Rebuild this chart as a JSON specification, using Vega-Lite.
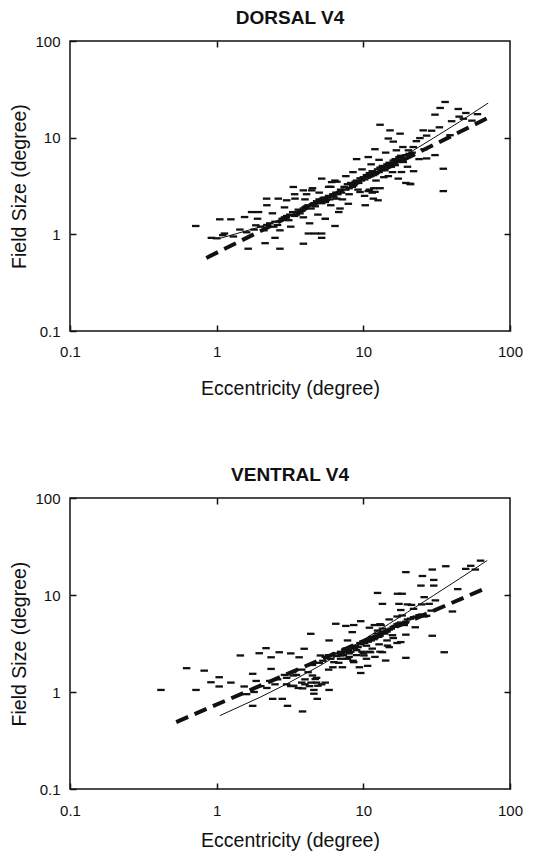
{
  "$schema": "https://vega.github.io/schema/vega-lite/v6.json",
  "padding": {"left": 9, "top": 8, "right": 10, "bottom": 2},
  "background": "white",
  "config": {
    "font": "Liberation Sans",
    "view": {"stroke": "#111", "strokeWidth": 1.5},
    "axis": {"domain": false, "grid": false, "ticks": true, "tickSize": -6, "tickColor": "#111", "tickWidth": 1.5, "labelFlush": false, "labelFont": "Liberation Sans", "labelFontSize": 15, "labelColor": "#111", "titleFont": "Liberation Sans", "titleFontSize": 19.5, "titleFontWeight": "normal", "titleColor": "#111"},
    "title": {"font": "Liberation Sans", "fontSize": 19, "fontWeight": "bold", "color": "#111"},
    "concat": {"spacing": 66}
  },
  "datasets": {
    "dorsal_pts": [
      {"ecc":0.72,"fs":1.22},{"ecc":0.92,"fs":0.92},{"ecc":1.0,"fs":0.91},{"ecc":1.05,"fs":1.43},{"ecc":1.25,"fs":1.43},{"ecc":1.13,"fs":1.02},{"ecc":1.44,"fs":1.12},{"ecc":1.55,"fs":1.51},{"ecc":1.64,"fs":0.71},{"ecc":1.73,"fs":1.7},{"ecc":1.93,"fs":1.7},{"ecc":1.85,"fs":1.24},{"ecc":2.14,"fs":0.81},{"ecc":2.19,"fs":2.34},{"ecc":2.63,"fs":2.34},{"ecc":2.7,"fs":0.71},{"ecc":2.5,"fs":0.92},{"ecc":3.0,"fs":2.25},{"ecc":3.33,"fs":3.09},{"ecc":3.42,"fs":2.34},{"ecc":3.9,"fs":2.85},{"ecc":4.45,"fs":2.85},{"ecc":3.9,"fs":0.8},{"ecc":4.22,"fs":1.02},{"ecc":5.2,"fs":3.77},{"ecc":6.08,"fs":3.47},{"ecc":6.4,"fs":3.6},{"ecc":6.58,"fs":2.34},{"ecc":7.9,"fs":2.07},{"ecc":6.93,"fs":1.85},{"ecc":6.41,"fs":1.22},{"ecc":5.2,"fs":1.02},{"ecc":5.2,"fs":0.92},{"ecc":4.7,"fs":1.02},{"ecc":10.3,"fs":2.0},{"ecc":11.7,"fs":2.34},{"ecc":12.6,"fs":2.25},{"ecc":9.5,"fs":2.74},{"ecc":10.8,"fs":6.3},{"ecc":13.0,"fs":13.6},{"ecc":15.2,"fs":11.9},{"ecc":14.8,"fs":9.8},{"ecc":17.8,"fs":11.0},{"ecc":18.7,"fs":5.6},{"ecc":20.3,"fs":7.4},{"ecc":21.9,"fs":8.0},{"ecc":24.3,"fs":9.9},{"ecc":25.6,"fs":11.9},{"ecc":29.2,"fs":11.8},{"ecc":30.8,"fs":17.3},{"ecc":33.4,"fs":20.3},{"ecc":36.1,"fs":23.4},{"ecc":44.4,"fs":19.8},{"ecc":48.1,"fs":15.7},{"ecc":39.0,"fs":10.6},{"ecc":30.8,"fs":6.6},{"ecc":27.0,"fs":6.1},{"ecc":20.8,"fs":3.34},{"ecc":35.1,"fs":4.77},{"ecc":35.1,"fs":2.8},{"ecc":18.2,"fs":4.41},{"ecc":17.3,"fs":3.77},{"ecc":16.5,"fs":5.2},{"ecc":14.8,"fs":4.0},
      {"ecc":1.6,"fs":1.05},{"ecc":1.8,"fs":1.12},{"ecc":2.0,"fs":1.2},{"ecc":2.1,"fs":1.1},{"ecc":2.3,"fs":1.3},{"ecc":2.5,"fs":1.35},{"ecc":2.6,"fs":1.25},{"ecc":2.8,"fs":1.45},{"ecc":3.0,"fs":1.55},{"ecc":3.1,"fs":1.4},{"ecc":3.3,"fs":1.7},{"ecc":3.5,"fs":1.6},{"ecc":3.6,"fs":1.8},{"ecc":3.8,"fs":1.75},{"ecc":4.0,"fs":1.9},{"ecc":4.2,"fs":2.0},{"ecc":4.4,"fs":1.85},{"ecc":4.6,"fs":2.1},{"ecc":4.8,"fs":2.2},{"ecc":5.0,"fs":2.3},{"ecc":5.2,"fs":2.1},{"ecc":5.4,"fs":2.4},{"ecc":5.6,"fs":2.25},{"ecc":5.8,"fs":2.5},{"ecc":6.0,"fs":2.0},{"ecc":6.2,"fs":2.6},{"ecc":6.5,"fs":2.7},{"ecc":7.0,"fs":2.9},{"ecc":7.4,"fs":3.1},{"ecc":7.8,"fs":3.3},{"ecc":8.2,"fs":3.4},{"ecc":8.6,"fs":3.2},{"ecc":9.0,"fs":3.6},{"ecc":9.5,"fs":3.8},{"ecc":10.0,"fs":3.9},{"ecc":10.5,"fs":4.1},{"ecc":11.0,"fs":4.3},{"ecc":11.5,"fs":4.5},{"ecc":12.0,"fs":4.2},{"ecc":12.5,"fs":4.7},{"ecc":13.0,"fs":4.9},{"ecc":13.5,"fs":5.1},{"ecc":14.0,"fs":4.6},{"ecc":14.5,"fs":5.3},{"ecc":15.0,"fs":5.5},{"ecc":15.5,"fs":5.0},{"ecc":16.0,"fs":5.8},{"ecc":16.5,"fs":6.0},{"ecc":17.0,"fs":5.6},{"ecc":17.5,"fs":6.3},{"ecc":18.0,"fs":6.5},{"ecc":18.5,"fs":5.9},{"ecc":19.0,"fs":6.2},
      {"ecc":2.2,"fs":2.0},{"ecc":2.7,"fs":1.1},{"ecc":3.2,"fs":1.2},{"ecc":3.9,"fs":1.5},{"ecc":4.3,"fs":1.3},{"ecc":4.9,"fs":1.6},{"ecc":5.5,"fs":1.45},{"ecc":6.8,"fs":1.7},{"ecc":7.2,"fs":2.3},{"ecc":8.0,"fs":2.6},{"ecc":8.5,"fs":4.4},{"ecc":9.2,"fs":2.9},{"ecc":10.2,"fs":2.5},{"ecc":10.8,"fs":2.8},{"ecc":11.3,"fs":5.3},{"ecc":12.2,"fs":3.6},{"ecc":12.8,"fs":5.9},{"ecc":13.8,"fs":3.9},{"ecc":14.2,"fs":7.0},{"ecc":15.8,"fs":4.4},{"ecc":16.8,"fs":7.4},{"ecc":18.6,"fs":8.0},{"ecc":20.0,"fs":5.0},{"ecc":22.0,"fs":4.5},{"ecc":24.0,"fs":6.0},{"ecc":26.0,"fs":7.6},{"ecc":3.4,"fs":2.6},{"ecc":4.1,"fs":2.6},{"ecc":5.8,"fs":3.1},{"ecc":6.6,"fs":3.5},{"ecc":7.6,"fs":4.0},{"ecc":9.8,"fs":4.7},{"ecc":11.8,"fs":3.0},{"ecc":19.5,"fs":3.4},{"ecc":21.0,"fs":3.3},{"ecc":4.5,"fs":3.0},{"ecc":1.9,"fs":1.45},{"ecc":2.4,"fs":1.65},{"ecc":1.3,"fs":0.95},{"ecc":1.1,"fs":0.98},{"ecc":2.9,"fs":1.9},{"ecc":12.0,"fs":7.6},{"ecc":9.0,"fs":6.0},{"ecc":16.0,"fs":9.1},{"ecc":23.0,"fs":9.2},{"ecc":27.0,"fs":10.5},{"ecc":33.0,"fs":12.8},{"ecc":40.0,"fs":14.8},{"ecc":50.0,"fs":18.0},{"ecc":45.0,"fs":16.5},{"ecc":55.0,"fs":15.0},{"ecc":60.0,"fs":17.5},
      {"ecc":2.2,"fs":1.25},{"ecc":2.45,"fs":1.2},{"ecc":2.9,"fs":1.5},{"ecc":3.15,"fs":1.6},{"ecc":3.4,"fs":1.55},{"ecc":3.7,"fs":1.65},{"ecc":3.9,"fs":1.85},{"ecc":4.1,"fs":1.95},{"ecc":4.5,"fs":2.05},{"ecc":4.7,"fs":1.95},{"ecc":5.1,"fs":2.2},{"ecc":5.3,"fs":2.35},{"ecc":5.5,"fs":2.15},{"ecc":5.7,"fs":2.4},{"ecc":5.9,"fs":2.3},{"ecc":6.3,"fs":2.45},{"ecc":6.7,"fs":2.6},{"ecc":7.1,"fs":2.7},{"ecc":7.6,"fs":2.9},{"ecc":8.0,"fs":3.0},{"ecc":8.4,"fs":3.1},{"ecc":8.8,"fs":3.5},{"ecc":9.3,"fs":3.4},{"ecc":9.7,"fs":3.6},{"ecc":10.2,"fs":3.7},{"ecc":10.7,"fs":3.9},{"ecc":11.2,"fs":4.0},{"ecc":11.7,"fs":4.1},{"ecc":12.3,"fs":4.4},{"ecc":12.8,"fs":4.4},{"ecc":13.3,"fs":4.6},{"ecc":13.8,"fs":4.8},{"ecc":14.3,"fs":5.0},{"ecc":14.8,"fs":5.2},{"ecc":15.3,"fs":5.3},{"ecc":15.8,"fs":5.5},{"ecc":16.3,"fs":5.4},{"ecc":16.8,"fs":5.7},{"ecc":17.3,"fs":5.9},{"ecc":17.8,"fs":6.1},{"ecc":18.3,"fs":6.2},{"ecc":19.5,"fs":6.6},{"ecc":20.5,"fs":6.8},{"ecc":21.5,"fs":7.0},{"ecc":11.0,"fs":2.9},{"ecc":11.5,"fs":2.7},{"ecc":12.0,"fs":2.75},{"ecc":13.0,"fs":3.0},{"ecc":5.0,"fs":2.7},{"ecc":6.0,"fs":3.1},{"ecc":4.0,"fs":2.3}
    ],
    "dorsal_lines": [
      {"ecc":1.03,"fs":0.9,"fit":"solid"},{"ecc":2,"fs":1.2,"fit":"solid"},{"ecc":3,"fs":1.51,"fit":"solid"},{"ecc":5,"fs":2.13,"fit":"solid"},{"ecc":7,"fs":2.75,"fit":"solid"},{"ecc":10,"fs":3.68,"fit":"solid"},{"ecc":15,"fs":5.23,"fit":"solid"},{"ecc":20,"fs":6.78,"fit":"solid"},{"ecc":30,"fs":9.88,"fit":"solid"},{"ecc":45,"fs":14.5,"fit":"solid"},{"ecc":71,"fs":22.8,"fit":"solid"},
      {"ecc":0.85,"fs":0.57,"fit":"dashed"},{"ecc":73,"fs":16.4,"fit":"dashed"}
    ],
    "ventral_pts": [
      {"ecc":0.417,"fs":1.05},{"ecc":0.624,"fs":1.76},{"ecc":0.723,"fs":1.05},{"ecc":0.822,"fs":1.66},{"ecc":0.914,"fs":1.26},{"ecc":1.04,"fs":1.42},{"ecc":1.04,"fs":1.14},{"ecc":1.25,"fs":1.25},{"ecc":1.45,"fs":2.38},{"ecc":1.54,"fs":1.14},{"ecc":1.76,"fs":1.54},{"ecc":1.76,"fs":0.72},{"ecc":1.86,"fs":1.3},{"ecc":1.95,"fs":2.51},{"ecc":2.17,"fs":2.83},{"ecc":2.35,"fs":2.28},{"ecc":2.35,"fs":1.73},{"ecc":2.41,"fs":0.85},{"ecc":2.67,"fs":2.57},{"ecc":2.8,"fs":0.85},{"ecc":3.04,"fs":0.72},{"ecc":3.2,"fs":2.5},{"ecc":3.33,"fs":1.48},{"ecc":3.35,"fs":1.16},{"ecc":3.65,"fs":2.28},{"ecc":3.85,"fs":1.09},{"ecc":3.95,"fs":2.79},{"ecc":3.85,"fs":0.63},{"ecc":4.38,"fs":3.98},{"ecc":4.5,"fs":1.48},{"ecc":4.7,"fs":1.36},{"ecc":4.6,"fs":0.96},{"ecc":4.85,"fs":0.85},{"ecc":4.9,"fs":1.16},{"ecc":5.84,"fs":1.05},{"ecc":5.1,"fs":2.38},{"ecc":5.84,"fs":3.4},{"ecc":6.49,"fs":5.05},{"ecc":7.6,"fs":4.8},{"ecc":8.6,"fs":4.9},{"ecc":9.6,"fs":5.37},{"ecc":8.4,"fs":4.14},{"ecc":7.8,"fs":3.4},{"ecc":7.0,"fs":2.38},{"ecc":6.3,"fs":2.03},{"ecc":7.2,"fs":1.8},{"ecc":8.6,"fs":2.03},{"ecc":9.4,"fs":1.8},{"ecc":9.6,"fs":1.57},{"ecc":10.7,"fs":1.86},{"ecc":10.1,"fs":2.38},{"ecc":11.2,"fs":2.57},{"ecc":11.9,"fs":4.9},{"ecc":12.5,"fs":10.5},{"ecc":13.5,"fs":8.1},{"ecc":13.2,"fs":4.9},{"ecc":13.5,"fs":2.57},{"ecc":14.2,"fs":2.11},{"ecc":14.6,"fs":3.01},{"ecc":15.8,"fs":3.85},{"ecc":17.1,"fs":10.3},{"ecc":18.4,"fs":10.3},{"ecc":17.5,"fs":8.1},{"ecc":18.4,"fs":6.15},{"ecc":18.0,"fs":3.27},{"ecc":19.5,"fs":3.9},{"ecc":19.5,"fs":2.25},{"ecc":19.5,"fs":17.2},{"ecc":21.3,"fs":7.9},{"ecc":24.7,"fs":12.5},{"ecc":25.3,"fs":15.7},{"ecc":28.1,"fs":8.1},{"ecc":29.0,"fs":6.9},{"ecc":29.5,"fs":3.8},{"ecc":30.2,"fs":12.5},{"ecc":30.2,"fs":14.3},{"ecc":29.5,"fs":18.3},{"ecc":31.0,"fs":8.8},{"ecc":35.6,"fs":2.57},{"ecc":40.5,"fs":6.76},{"ecc":36.5,"fs":19.8},{"ecc":44.0,"fs":11.5},{"ecc":49.9,"fs":18.6},{"ecc":54.0,"fs":20.0},{"ecc":58.0,"fs":18.3},{"ecc":63.0,"fs":22.6},{"ecc":22.6,"fs":4.65},
      {"ecc":5.5,"fs":2.3},{"ecc":6.0,"fs":2.2},{"ecc":6.5,"fs":2.5},{"ecc":7.0,"fs":2.6},{"ecc":7.3,"fs":2.4},{"ecc":7.6,"fs":2.8},{"ecc":8.0,"fs":2.5},{"ecc":8.3,"fs":2.9},{"ecc":8.8,"fs":3.0},{"ecc":9.0,"fs":2.7},{"ecc":9.5,"fs":3.2},{"ecc":10.0,"fs":3.3},{"ecc":10.5,"fs":3.0},{"ecc":11.0,"fs":3.5},{"ecc":11.5,"fs":3.7},{"ecc":12.0,"fs":3.6},{"ecc":12.5,"fs":4.0},{"ecc":13.0,"fs":3.8},{"ecc":13.5,"fs":4.2},{"ecc":14.0,"fs":4.0},{"ecc":15.0,"fs":4.4},{"ecc":16.0,"fs":4.7},{"ecc":17.0,"fs":5.0},{"ecc":18.0,"fs":5.2},{"ecc":19.0,"fs":4.9},{"ecc":20.0,"fs":5.6},{"ecc":22.0,"fs":5.9},{"ecc":24.0,"fs":6.2},{"ecc":26.0,"fs":6.0},{"ecc":6.8,"fs":2.0},{"ecc":7.8,"fs":2.2},{"ecc":8.5,"fs":2.1},{"ecc":9.8,"fs":2.6},{"ecc":11.5,"fs":2.8},{"ecc":12.8,"fs":3.1},{"ecc":14.5,"fs":3.4},{"ecc":16.0,"fs":3.6},{"ecc":4.2,"fs":1.6},{"ecc":3.5,"fs":1.5},{"ecc":3.0,"fs":1.4},{"ecc":3.8,"fs":1.25},{"ecc":4.0,"fs":1.2},{"ecc":4.4,"fs":1.25},{"ecc":5.2,"fs":1.2},{"ecc":3.2,"fs":1.15},{"ecc":4.6,"fs":1.05},{"ecc":2.5,"fs":1.2},{"ecc":2.2,"fs":1.1},{"ecc":2.0,"fs":1.15},{"ecc":1.8,"fs":1.0},{"ecc":1.6,"fs":0.95},{"ecc":5.8,"fs":1.7},{"ecc":6.2,"fs":1.8},{"ecc":5.0,"fs":2.0},{"ecc":4.8,"fs":1.4},{"ecc":10.5,"fs":2.2},{"ecc":12.0,"fs":2.3},{"ecc":13.0,"fs":2.6},{"ecc":15.0,"fs":2.9},{"ecc":17.0,"fs":3.2},{"ecc":11.0,"fs":4.6},{"ecc":13.0,"fs":5.0},{"ecc":15.0,"fs":5.6},{"ecc":17.0,"fs":6.0},{"ecc":22.0,"fs":7.2},{"ecc":25.0,"fs":8.0},{"ecc":20.0,"fs":8.0},{"ecc":26.0,"fs":9.5},{"ecc":18.0,"fs":7.0},
      {"ecc":6.6,"fs":2.35},{"ecc":7.1,"fs":2.5},{"ecc":7.5,"fs":2.6},{"ecc":7.9,"fs":2.7},{"ecc":8.2,"fs":2.6},{"ecc":8.7,"fs":2.8},{"ecc":9.2,"fs":2.9},{"ecc":9.6,"fs":3.1},{"ecc":10.2,"fs":3.2},{"ecc":10.8,"fs":3.3},{"ecc":11.3,"fs":3.4},{"ecc":11.8,"fs":3.5},{"ecc":12.2,"fs":3.8},{"ecc":12.7,"fs":3.7},{"ecc":13.2,"fs":4.0},{"ecc":13.8,"fs":4.1},{"ecc":14.5,"fs":4.2},{"ecc":15.5,"fs":4.5},{"ecc":16.5,"fs":4.8},{"ecc":17.5,"fs":5.1},{"ecc":18.5,"fs":5.0},{"ecc":19.5,"fs":5.3},{"ecc":21.0,"fs":5.7},{"ecc":23.0,"fs":6.0},{"ecc":25.0,"fs":6.3},{"ecc":27.0,"fs":6.1},{"ecc":7.0,"fs":2.2},{"ecc":8.0,"fs":2.3},{"ecc":9.0,"fs":2.4},{"ecc":10.0,"fs":2.5},{"ecc":11.0,"fs":2.6},{"ecc":12.5,"fs":4.3},{"ecc":13.5,"fs":4.5},{"ecc":5.3,"fs":2.1},{"ecc":5.8,"fs":2.4},{"ecc":4.5,"fs":1.9},{"ecc":3.8,"fs":1.7},{"ecc":3.3,"fs":1.6},{"ecc":2.9,"fs":1.5},{"ecc":2.6,"fs":1.35},{"ecc":2.3,"fs":1.3},{"ecc":4.0,"fs":1.35},{"ecc":4.3,"fs":1.15},{"ecc":4.8,"fs":1.25},{"ecc":5.5,"fs":1.25},{"ecc":3.6,"fs":1.1},{"ecc":3.0,"fs":1.2}
    ],
    "ventral_lines": [
      {"ecc":1.05,"fs":0.57,"fit":"solid"},{"ecc":2,"fs":0.89,"fit":"solid"},{"ecc":3,"fs":1.21,"fit":"solid"},{"ecc":5,"fs":1.85,"fit":"solid"},{"ecc":7,"fs":2.49,"fit":"solid"},{"ecc":10,"fs":3.45,"fit":"solid"},{"ecc":15,"fs":5.05,"fit":"solid"},{"ecc":20,"fs":6.65,"fit":"solid"},{"ecc":30,"fs":9.85,"fit":"solid"},{"ecc":45,"fs":14.65,"fit":"solid"},{"ecc":70,"fs":22.7,"fit":"solid"},
      {"ecc":0.53,"fs":0.49,"fit":"dashed"},{"ecc":71,"fs":12.05,"fit":"dashed"}
    ]
  },
  "vconcat": [
    {
      "title": {"text": "DORSAL V4", "offset": 6},
      "width": 440, "height": 290,
      "layer": [
        {
          "data": {"name": "dorsal_pts"},
          "mark": {"type": "tick", "orient": "horizontal", "size": 7.5, "thickness": 2.3, "color": "#111", "opacity": 1},
          "encoding": {
            "x": {"field": "ecc", "type": "quantitative", "scale": {"type": "log", "domain": [0.1, 100]}, "axis": {"title": "Eccentricity (degree)", "values": [0.1, 1, 10, 100], "format": "~g", "labelPadding": 19.5, "titlePadding": 20}},
            "y": {"field": "fs", "type": "quantitative", "scale": {"type": "log", "domain": [0.1, 100]}, "axis": {"title": "Field Size (degree)", "values": [0.1, 1, 10, 100], "format": "~g", "labelPadding": 16, "titlePadding": 5}}
          }
        },
        {
          "data": {"name": "dorsal_lines"},
          "transform": [{"filter": "datum.fit === 'solid'"}],
          "mark": {"type": "line", "color": "#111", "strokeWidth": 1},
          "encoding": {
            "x": {"field": "ecc", "type": "quantitative", "scale": {"type": "log", "domain": [0.1, 100]}, "axis": {"orient": "top", "labels": false, "title": null, "values": [1, 10]}},
            "y": {"field": "fs", "type": "quantitative", "scale": {"type": "log", "domain": [0.1, 100]}, "axis": {"orient": "right", "labels": false, "title": null, "values": [1, 10]}}
          }
        },
        {
          "data": {"name": "dorsal_lines"},
          "transform": [{"filter": "datum.fit === 'dashed'"}],
          "mark": {"type": "line", "color": "#111", "strokeWidth": 4, "strokeDash": [13, 7]},
          "encoding": {
            "x": {"field": "ecc", "type": "quantitative", "scale": {"type": "log", "domain": [0.1, 100]}, "axis": null},
            "y": {"field": "fs", "type": "quantitative", "scale": {"type": "log", "domain": [0.1, 100]}, "axis": null}
          }
        }
      ],
      "resolve": {"axis": {"x": "independent", "y": "independent"}}
    },
    {
      "title": {"text": "VENTRAL V4", "offset": 6},
      "width": 440, "height": 291,
      "layer": [
        {
          "data": {"name": "ventral_pts"},
          "mark": {"type": "tick", "orient": "horizontal", "size": 7.5, "thickness": 2.3, "color": "#111", "opacity": 1},
          "encoding": {
            "x": {"field": "ecc", "type": "quantitative", "scale": {"type": "log", "domain": [0.1, 100]}, "axis": {"title": "Eccentricity (degree)", "values": [0.1, 1, 10, 100], "format": "~g", "labelPadding": 20, "titlePadding": 13}},
            "y": {"field": "fs", "type": "quantitative", "scale": {"type": "log", "domain": [0.1, 100]}, "axis": {"title": "Field Size (degree)", "values": [0.1, 1, 10, 100], "format": "~g", "labelPadding": 16, "titlePadding": 5}}
          }
        },
        {
          "data": {"name": "ventral_lines"},
          "transform": [{"filter": "datum.fit === 'solid'"}],
          "mark": {"type": "line", "color": "#111", "strokeWidth": 1},
          "encoding": {
            "x": {"field": "ecc", "type": "quantitative", "scale": {"type": "log", "domain": [0.1, 100]}, "axis": {"orient": "top", "labels": false, "title": null, "values": [1, 10]}},
            "y": {"field": "fs", "type": "quantitative", "scale": {"type": "log", "domain": [0.1, 100]}, "axis": {"orient": "right", "labels": false, "title": null, "values": [1, 10]}}
          }
        },
        {
          "data": {"name": "ventral_lines"},
          "transform": [{"filter": "datum.fit === 'dashed'"}],
          "mark": {"type": "line", "color": "#111", "strokeWidth": 4, "strokeDash": [13, 7]},
          "encoding": {
            "x": {"field": "ecc", "type": "quantitative", "scale": {"type": "log", "domain": [0.1, 100]}, "axis": null},
            "y": {"field": "fs", "type": "quantitative", "scale": {"type": "log", "domain": [0.1, 100]}, "axis": null}
          }
        }
      ],
      "resolve": {"axis": {"x": "independent", "y": "independent"}}
    }
  ]
}
